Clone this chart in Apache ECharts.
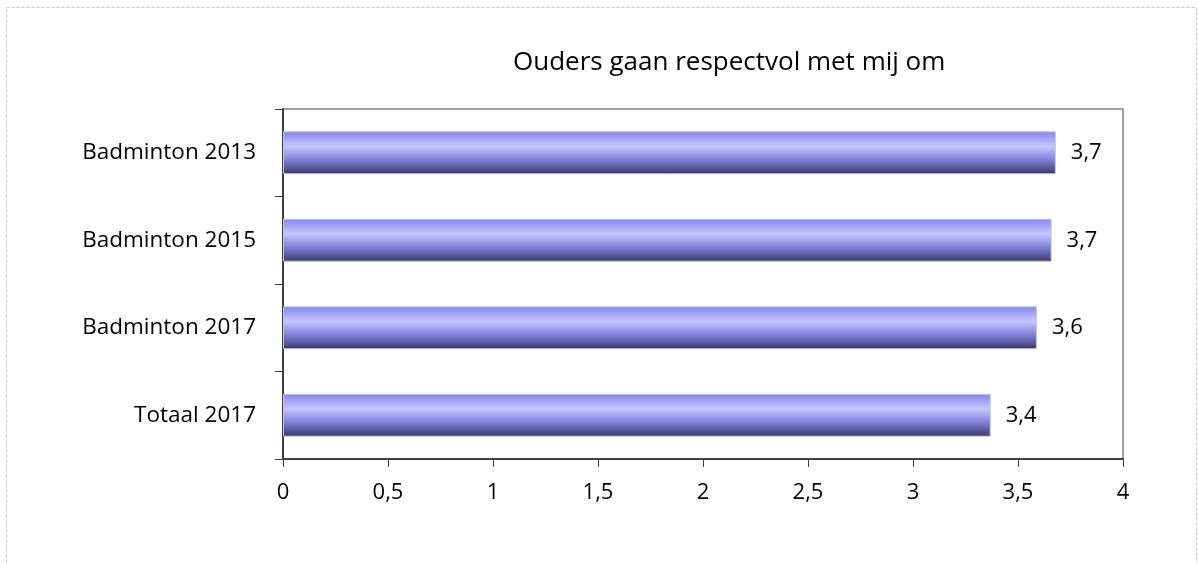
<!DOCTYPE html>
<html>
<head>
<meta charset="utf-8">
<script src="https://cdn.jsdelivr.net/npm/echarts@6/dist/echarts.min.js"></script>
<style>
  html, body { margin: 0; padding: 0; background: #fff; }
  #chart { width: 1198px; height: 564px; }
</style>
</head>
<body>
<div id="chart"></div>
<script>
// categorieën van boven naar beneden
const categories = ['Badminton 2013', 'Badminton 2015', 'Badminton 2017', 'Totaal 2017'];
const values = [3.68, 3.66, 3.59, 3.37];
const xTicks = { min: 0, max: 4, interval: 0.5 };
const titleText = 'Ouders gaan respectvol met mij om';

const fontFamily = '"Open Sans", "Noto Sans", sans-serif';
const comma = v => String(v).replace('.', ',');

const chart = echarts.init(document.getElementById('chart'));

// verticale verloop voor de balken (licht in het midden, donker onderaan)
const barGradient = new echarts.graphic.LinearGradient(0, 0, 0, 1, [
  { offset: 0, color: '#8484ee' },
  { offset: 0.35, color: '#c6c6ff' },
  { offset: 0.6, color: '#8e8ee6' },
  { offset: 0.85, color: '#5858a0' },
  { offset: 1, color: '#383860' }
]);

chart.setOption({
  backgroundColor: '#fff',
  animation: false,
  title: {
    text: titleText,
    left: 508,
    top: 45,
    textStyle: { fontFamily, fontSize: 26, fontWeight: 'normal', color: '#000' }
  },
  graphic: [{
    type: 'rect',
    shape: { x: 6.5, y: 7.5, width: 1190, height: 620 },
    style: { fill: 'none', stroke: '#c8c8c8', lineWidth: 1, lineDash: [3, 2] },
    silent: true
  }],
  grid: {
    left: 283,
    top: 109,
    right: 75,
    bottom: 105,
    show: true,
    borderColor: '#a0a0a0',
    borderWidth: 2,
    containLabel: false
  },
  xAxis: {
    type: 'value',
    min: xTicks.min,
    max: xTicks.max,
    interval: xTicks.interval,
    splitLine: { show: false },
    axisLine: { show: true, lineStyle: { color: '#404040', width: 2 } },
    axisTick: { show: true, length: 8, lineStyle: { color: '#404040', width: 1 } },
    axisLabel: {
      margin: 23,
      fontFamily,
      fontSize: 22,
      color: '#000',
      formatter: v => comma(v)
    }
  },
  yAxis: {
    type: 'category',
    data: categories,
    inverse: true,
    axisLine: { show: true, lineStyle: { color: '#404040', width: 2 } },
    axisTick: { show: true, length: 8, lineStyle: { color: '#404040', width: 1 } },
    axisLabel: { margin: 27, fontFamily, fontSize: 22.5, color: '#000' }
  },
  series: [{
    type: 'bar',
    data: values,
    barWidth: '49%',
    itemStyle: { color: barGradient, borderColor: '#c4c4d4', borderWidth: 1 },
    label: {
      show: true,
      position: 'right',
      distance: 15,
      fontFamily,
      fontSize: 22,
      color: '#000',
      formatter: p => comma(p.value.toFixed(1))
    }
  }]
});
</script>
</body>
</html>
